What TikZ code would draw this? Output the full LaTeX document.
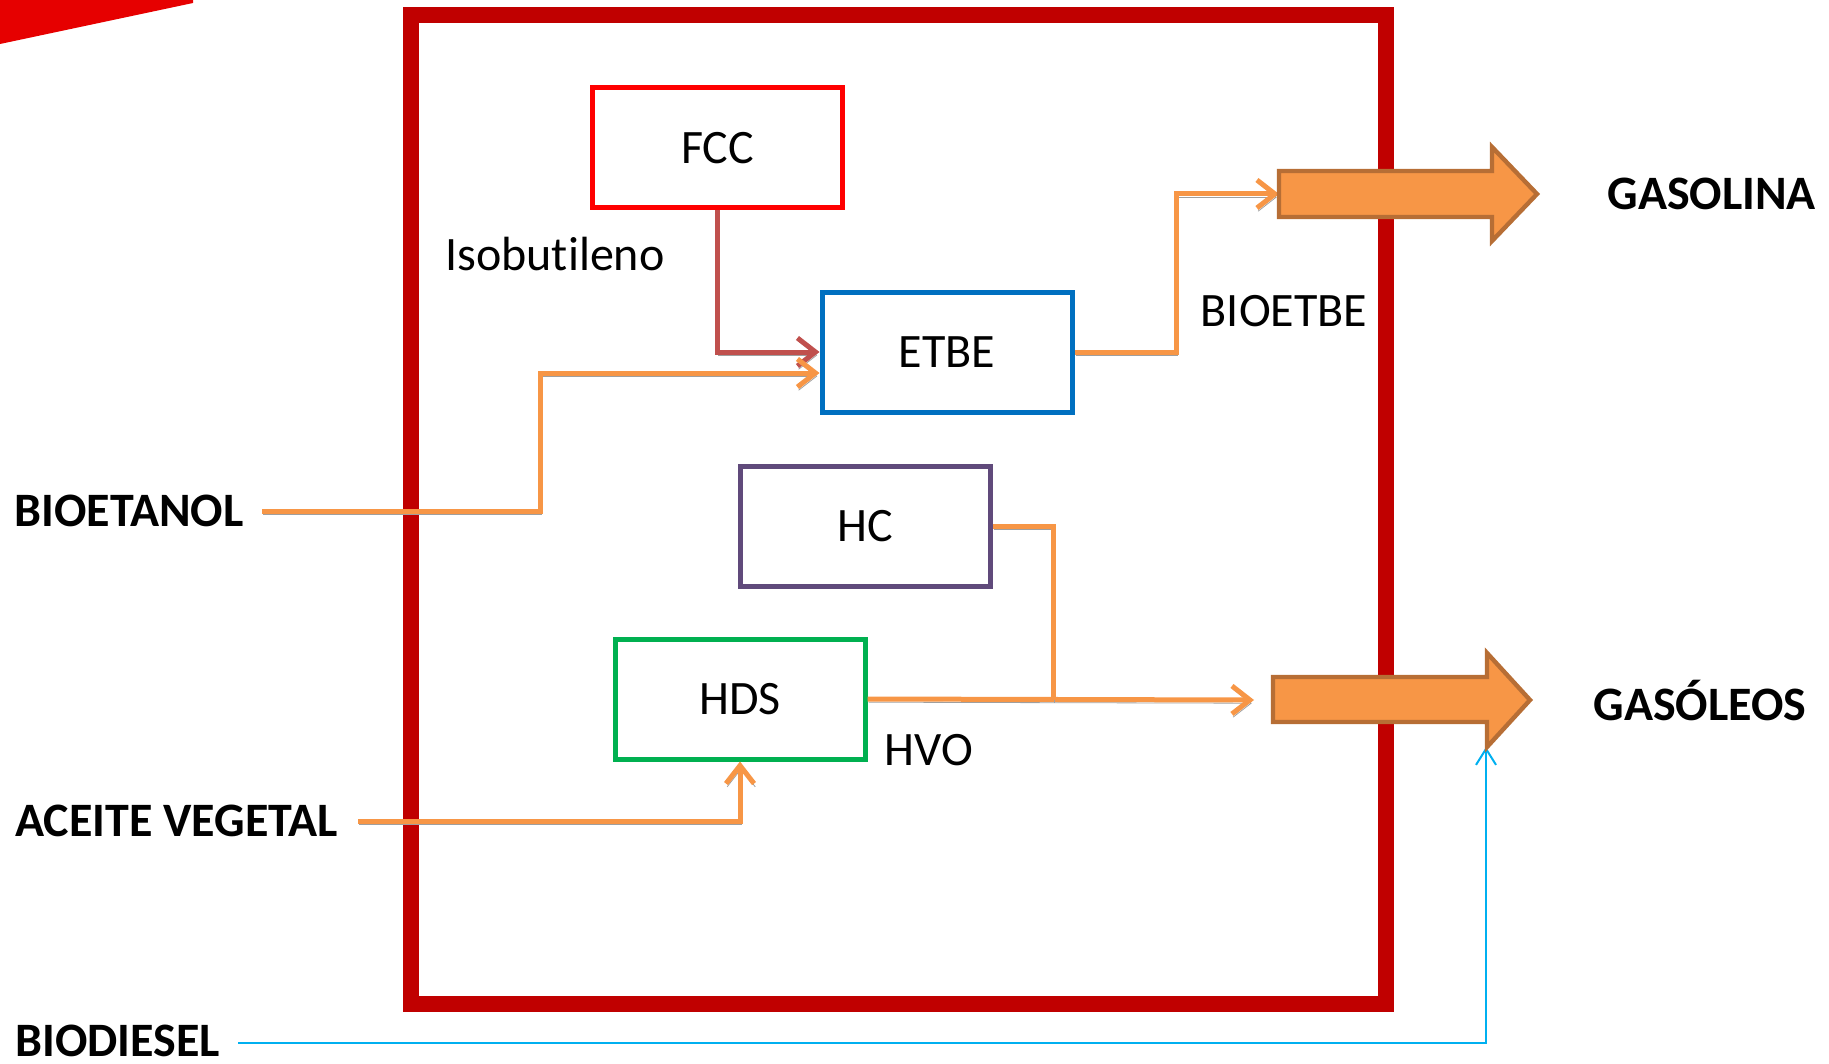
\documentclass[tikz,border=0pt]{standalone}
\usepackage{fontspec}
\setmainfont{Carlito}[Ligatures=NoCommon]
\usepackage{tikz}
\usetikzlibrary{arrows.meta,calc}
\definecolor{marco}{HTML}{C00000}
\definecolor{cuna}{HTML}{E60000}
\definecolor{rojofcc}{HTML}{FF0000}
\definecolor{azuletbe}{HTML}{0070C0}
\definecolor{moradohc}{HTML}{604A7B}
\definecolor{verdehds}{HTML}{00B050}
\definecolor{naranja}{HTML}{F79646}
\definecolor{naranjaosc}{HTML}{B76E35}
\definecolor{rojoflujo}{HTML}{C0504D}
\definecolor{celeste}{HTML}{00B0F0}

\begin{document}
\begin{tikzpicture}[x=0.5pt,y=-0.5pt,
    caja/.style={draw,line width=2.5pt,minimum width=125pt,minimum height=60pt,inner sep=0pt,font=\fontsize{24}{28}\selectfont},
    etiq/.style={inner sep=0pt,font=\fontsize{24}{28}\selectfont},
    entrada/.style={inner sep=0pt,anchor=west,font=\bfseries\fontsize{24}{28}\selectfont},
    flujo/.style={draw=naranja,line width=2.5pt,-{Straight Barb[length=9pt,width=14pt]},
        preaction={draw=gray!75,transform canvas={shift={(0.6pt,-1.6pt)}}}},
    grande/.style={fill=naranja,draw=naranjaosc,line width=2.2pt},
    biod/.style={draw=celeste,line width=1pt,-{Straight Barb[length=8pt,width=10pt]}}]
    \useasboundingbox (0,0) rectangle (1829,1064);

    \fill[cuna] (0,0) -- (193,0) -- (193,3) -- (0,44) -- cycle;
    \draw[marco,line width=8pt] (411,15) rectangle (1386,1004);

    \node[caja,draw=rojofcc] (fcc) at (717.5,148) {FCC};
    \node[caja,draw=azuletbe] (etbe) at (947,352) {ETBE};
    \node[caja,draw=moradohc] (hc) at (865,526) {HC};
    \node[caja,draw=verdehds] (hds) at (740,699) {HDS};

    \node[etiq] (isob) at (555,254) {Isobutileno};
    \node[etiq] (bioetbe) at (1284,311) {BIOETBE};
    \node[etiq] (hvo) at (929,750) {HVO};

    \node[entrada] (bioetanol) at (14,511) {BIOETANOL};
    \node[entrada] (aceite) at (15,821) {ACEITE VEGETAL};
    \node[entrada] (biodiesel) at (15,1041) {BIODIESEL};
    \node[entrada] (gasolina) at (1607,194) {GASOLINA};
    \node[entrada] (gasoleos) at (1593,700) {GASÓLEOS};

    \coordinate (bioetanol-out) at (262,511);
    \coordinate (aceite-out) at (358,821);
    \coordinate (biodiesel-out) at (238,1043);
    \coordinate (gasolina-in) at (1279,194);
    \coordinate (gasoleos-in) at (1254,700);
    \coordinate (gasoleos-pie) at (1486,747);

    \draw[flujo,draw=rojoflujo] (fcc.south) |- (etbe.west);
    \draw[flujo] (bioetanol-out) -- (540,511) |- ($(etbe.west)+(0,21)$);
    \draw[flujo] (etbe.east) -- (1176,352) |- (gasolina-in);
    \draw[flujo] (aceite-out) -| (hds.south);
    \draw[flujo] (hds.east) -- (gasoleos-in);
    \draw[flujo,-] (hc.east) -| (1053,700);
    \draw[biod] (biodiesel-out) -| (gasoleos-pie);

    \draw[grande] (1279,171) -- (1492,171) -- (1492,147) -- (1537,194) -- (1492,241) -- (1492,217) -- (1279,217) -- cycle;
    \draw[grande] (1273,677) -- (1487,677) -- (1487,653) -- (1530,700) -- (1487,747) -- (1487,722) -- (1273,722) -- cycle;
\end{tikzpicture}
\end{document}
